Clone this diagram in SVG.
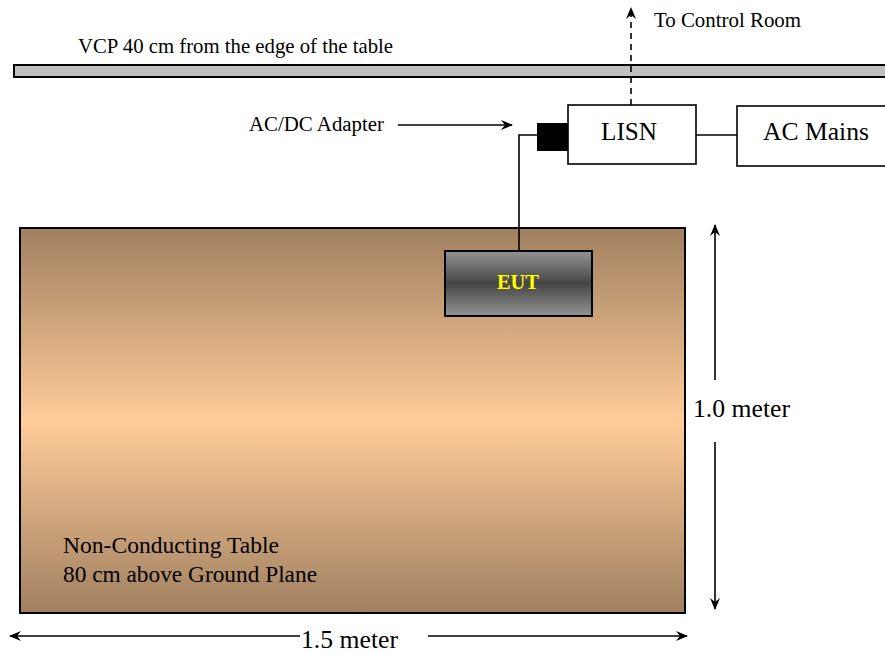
<svg xmlns="http://www.w3.org/2000/svg" width="885" height="654" viewBox="0 0 885 654">
<style>
text{font-family:"Liberation Serif","Times New Roman",serif;fill:#000}
.ln{stroke:#000;stroke-width:1.6;fill:none}
.box{fill:#fff;stroke:#000;stroke-width:1.6}
</style>
<defs>
<linearGradient id="tg" x1="0" y1="0" x2="0" y2="1">
<stop offset="0" stop-color="#a08060"/>
<stop offset="0.5" stop-color="#ffcc99"/>
<stop offset="1" stop-color="#a08060"/>
</linearGradient>
<linearGradient id="eg" x1="0" y1="0" x2="0" y2="1">
<stop offset="0" stop-color="#949494"/>
<stop offset="0.5" stop-color="#454545"/>
<stop offset="1" stop-color="#949494"/>
</linearGradient>
<marker id="ah" viewBox="0 0 12 10" refX="11" refY="5" markerWidth="12" markerHeight="10" markerUnits="userSpaceOnUse" orient="auto-start-reverse">
<path d="M0,0 L12,5 L0,10 L4,5 Z" fill="#000"/>
</marker>
</defs>
<g id="vcp">
<rect x="14" y="65" width="880" height="12" fill="#c0c0c0" stroke="#000" stroke-width="2"/>
<text x="78" y="53" font-size="21" textLength="315" lengthAdjust="spacingAndGlyphs">VCP 40 cm from the edge of the table</text>
</g>
<g id="table">
<rect x="20" y="228" width="665" height="385" fill="url(#tg)" stroke="#000" stroke-width="2"/>
<text x="63" y="553" font-size="23.5" textLength="216" lengthAdjust="spacingAndGlyphs">Non-Conducting Table</text>
<text x="63" y="582" font-size="23.5" textLength="254" lengthAdjust="spacingAndGlyphs">80 cm above Ground Plane</text>
</g>
<g id="connectors">
<path class="ln" d="M537,135 H519 V251"/>
<path class="ln" d="M696,135 H737"/>
<path class="ln" d="M631,105 V8" stroke-dasharray="6,5" marker-end="url(#ah)"/>
<path class="ln" d="M398,125 H512" marker-end="url(#ah)"/>
<path class="ln" d="M715,380 V225" marker-end="url(#ah)"/>
<path class="ln" d="M715,442 V609" marker-end="url(#ah)"/>
<path class="ln" d="M300,636 H10" marker-end="url(#ah)"/>
<path class="ln" d="M428,636 H687" marker-end="url(#ah)"/>
</g>
<g id="eut">
<rect x="445" y="251" width="147" height="65" fill="url(#eg)" stroke="#000" stroke-width="2"/>
<text x="497" y="289" font-size="20" font-weight="bold" textLength="42" lengthAdjust="spacingAndGlyphs" style="fill:#ffff00">EUT</text>
</g>
<g id="adapter">
<rect x="537" y="123" width="31" height="28" fill="#000"/>
<text x="249" y="131" font-size="20.5" textLength="135" lengthAdjust="spacingAndGlyphs">AC/DC Adapter</text>
</g>
<g id="lisn">
<rect class="box" x="568" y="105" width="128" height="59"/>
<text x="601" y="140" font-size="25.5" textLength="56" lengthAdjust="spacingAndGlyphs">LISN</text>
</g>
<g id="acmains">
<rect class="box" x="737" y="106" width="160" height="60"/>
<text x="763" y="140" font-size="25.5" textLength="106" lengthAdjust="spacingAndGlyphs">AC Mains</text>
</g>
<g id="labels">
<text x="654" y="27" font-size="21" textLength="147" lengthAdjust="spacingAndGlyphs">To Control Room</text>
<text x="693" y="417" font-size="25.5" textLength="97" lengthAdjust="spacingAndGlyphs">1.0 meter</text>
<text x="301" y="648" font-size="25.5" textLength="97" lengthAdjust="spacingAndGlyphs">1.5 meter</text>
</g>
</svg>
